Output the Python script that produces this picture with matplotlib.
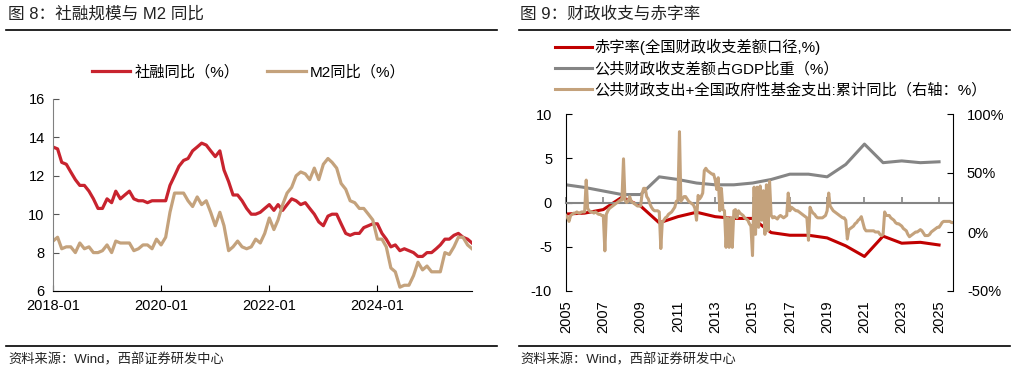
import numpy as np
import pandas as pd
import matplotlib
matplotlib.use("Agg")
import matplotlib.pyplot as plt
import matplotlib.dates as mdates
from matplotlib.lines import Line2D
from matplotlib.ticker import FuncFormatter

plt.rcParams['font.family'] = ['Liberation Sans', 'Noto Sans CJK SC']
plt.rcParams['axes.unicode_minus'] = False

# ---- 图8 data: monthly, 2018-01 .. 2025-10
tsf = [13.5, 13.4, 12.7, 12.6, 12.2, 11.8, 11.5, 11.5, 11.2, 10.8, 10.3, 10.3,
       10.8, 10.6, 11.2, 10.8, 11.0, 11.2, 10.8, 10.7, 10.7, 10.6, 10.7, 10.7,
       10.7, 10.7, 11.5, 12.0, 12.5, 12.8, 12.9, 13.3, 13.5, 13.7, 13.6, 13.3,
       13.0, 13.3, 12.3, 11.7, 11.0, 11.0, 10.7, 10.3, 10.0, 10.0, 10.1, 10.3,
       10.5, 10.2, 10.5, 10.2, 10.5, 10.8, 10.7, 10.5, 10.6, 10.3, 10.0, 9.6,
       9.4, 9.9, 10.0, 10.0, 9.5, 9.0, 8.9, 9.0, 9.0, 9.3, 9.4, 9.5,
       9.5, 9.0, 8.7, 8.3, 8.4, 8.1, 8.2, 8.1, 8.0, 7.8, 7.8, 8.0,
       8.0, 8.2, 8.4, 8.7, 8.7, 8.9, 9.0, 8.8, 8.7, 8.5]
m2 = [8.6, 8.8, 8.2, 8.3, 8.3, 8.0, 8.5, 8.2, 8.3, 8.0, 8.0, 8.1,
      8.4, 8.0, 8.6, 8.5, 8.5, 8.5, 8.1, 8.2, 8.4, 8.4, 8.2, 8.7,
      8.4, 8.8, 10.1, 11.1, 11.1, 11.1, 10.7, 10.4, 10.9, 10.5, 10.7, 10.1,
      9.4, 10.1, 9.4, 8.1, 8.3, 8.6, 8.3, 8.2, 8.3, 8.7, 8.5, 9.0,
      9.8, 9.2, 9.7, 10.5, 11.1, 11.4, 12.0, 12.2, 12.1, 11.8, 12.4, 11.8,
      12.6, 12.9, 12.7, 12.4, 11.6, 11.3, 10.7, 10.6, 10.3, 10.3, 10.0, 9.7,
      8.7, 8.7, 8.3, 7.2, 7.0, 6.2, 6.3, 6.3, 6.8, 7.5, 7.1, 7.3,
      7.0, 7.0, 7.0, 8.0, 7.9, 8.3, 8.8, 8.8, 8.4, 8.2]
left_ticks = ['2018-01', '2020-01', '2022-01', '2024-01']

# ---- 图9 data: annual 2005..2025, monthly spending growth 2005-01 .. 2025-10
years = list(range(2005, 2026))
deficit = [-1.3, -1.2, -0.8, 0.6, -0.4, -2.3, -1.6, -1.1, -1.6, -1.8, -1.8,
           -3.4, -3.7, -3.7, -4.0, -4.9, -6.1, -3.8, -4.6, -4.5, -4.8]
gap_gdp = [2.0, 1.7, 1.3, 0.9, 0.9, 2.9, 2.6, 2.2, 2.0, 2.0, 2.2,
           2.6, 3.2, 3.2, 2.9, 4.3, 6.6, 4.5, 4.7, 4.5, 4.6]
spend = [14, 12, 9, 14, 15, 16, 16, 17, 16, 16, 17, 17,
         17, 44, 20, 18, 17, 17, 16, 17, 16, 15, 15, 14,
         14, -16, 15, 18, 20, 21, 22, 23, 24, 25, 26, 27,
         27, 62, 27, 25, 26, 30, 26, 25, 24, 23, 22, 22,
         22, 33, 37, 37, 30, 28, 24, 21, 19, 18, 18, 18,
         17, -14, 8, 10, 12, 13, 15, 16, 17, 19, 21, 26,
         27, 85, 26, 28, 30, 30, 28, 26, 25, 24, 23, 20,
         10, 31, 28, 30, 33, 52, 54, 52, 51, 50, 49, 49,
         44, 36, 46, 18, 37, 19, 18, -13, 12, -13, 12, -13,
         18, 19, 12, 18, 16, 15, 14, 12, 11, 10, 7, 5,
         -20, 38, -2, 38, 4, 39, 10, 35, -2, 40, 1, 43,
         14, 12, 13, 12, 11, 13, 14, 13, 12, 13, 14, 33,
         18, 21, 20, 19, 18, 18, 17, 16, 15, 14, 13, 12,
         -7, 21, 18, 16, 15, 13, 12, 12, 12, 12, 13, 14,
         18, 33, 22, 20, 18, 17, 16, 15, 14, 13, 12, 12,
         10, -6, 2, 3, 4, 5, 7, 8, 10, 11, 13, 8,
         3, 1, 1, 1, 1, 1, 1, 0, 0, 0, -2, -3,
         -2, 17, 14, 14, 14, 12, 11, 10, 8, 7, 7, 6,
         5, 3, 2, 1, -2, -4, -3, -2, -1, 0, 0, 1,
         2, 1, -1, -3, -3, -3, -2, 0, 1, 2, 3, 4,
         4, 6, 8, 9, 9, 9, 9, 9, 8, 8]
right_tick_years = list(range(2005, 2026, 2))

RED1 = '#C8232E'
TAN = '#C4A27C'
RED2 = '#C00000'
GRAY = '#858585'
FS = 10.5
LFS = 11

fig = plt.figure(figsize=(10.24, 3.75), dpi=100)
W, H = 1024, 375

def fx(px):
    return px / W

def fy(py):
    return 1 - py / H

# titles, rules and sources
fig.text(fx(8), fy(14), '图 8：社融规模与 M2 同比', fontsize=12, va='center', color='#222222')
fig.text(fx(520), fy(14), '图 9：财政收支与赤字率', fontsize=12, va='center', color='#222222')
for x0, x1 in [(6, 497), (519, 1010)]:
    fig.add_artist(Line2D([fx(x0), fx(x1)], [fy(30), fy(30)], color='black', lw=1.2))
    fig.add_artist(Line2D([fx(x0), fx(x1)], [fy(346), fy(346)], color='black', lw=1.2))
fig.text(fx(8), fy(360), '资料来源：Wind，西部证券研发中心', fontsize=9.5, va='center', color='#222222')
fig.text(fx(520), fy(360), '资料来源：Wind，西部证券研发中心', fontsize=9.5, va='center', color='#222222')

# ---- left chart
ax = fig.add_axes([fx(53), fy(291), fx(472 - 53), (291 - 99) / H])
dates = pd.date_range('2018-01-01', periods=len(tsf), freq='MS')
l1, = ax.plot(dates, tsf, color=RED1, lw=2.3, label='社融同比（%）')
l2, = ax.plot(dates, m2, color=TAN, lw=2.3, label='M2同比（%）')
ax.set_xlim(dates[0], dates[-1])
ax.set_ylim(6, 16)
ax.set_yticks([6, 8, 10, 12, 14, 16])
ax.set_xticks(pd.to_datetime(left_ticks))
ax.xaxis.set_major_formatter(mdates.DateFormatter('%Y-%m'))
for s in ['top', 'right']:
    ax.spines[s].set_visible(False)
ax.spines['left'].set_color('#808080')
ax.spines['bottom'].set_color('black')
ax.tick_params(axis='y', direction='in', length=4, pad=6, labelsize=FS, color='#555555')
ax.tick_params(axis='x', direction='in', length=4, pad=6, labelsize=FS)
fig.legend(handles=[l1, l2], loc='center', bbox_to_anchor=(fx(249), fy(72)), ncol=2,
           frameon=False, fontsize=LFS, handlelength=2.5, handletextpad=0.3,
           columnspacing=1.8, borderpad=0, borderaxespad=0)

# ---- right chart
bx = fig.add_axes([fx(566), fy(291), fx(953 - 566), (291 - 114) / H])
ydates = pd.to_datetime([f'{y}-01-01' for y in years])
mdates_ = pd.date_range('2005-01-01', periods=len(spend), freq='MS')
r1, = bx.plot(ydates, deficit, color=RED2, lw=2.2, label='赤字率(全国财政收支差额口径,%)')
r2, = bx.plot(ydates, gap_gdp, color=GRAY, lw=2.2, label='公共财政收支差额占GDP比重（%）')
bx.set_ylim(-10, 10)
bx.set_yticks([-10, -5, 0, 5, 10])
bx.set_xlim(mdates_[0], mdates_[-1])
tick_pos = mdates.date2num(pd.to_datetime([f'{y}-01-01' for y in right_tick_years]))
bx.set_xticks(tick_pos)
bx.spines['bottom'].set_position(('data', 0))
bx.spines['bottom'].set_color(GRAY)
bx.spines['bottom'].set_linewidth(1.5)
bx.spines['top'].set_visible(False)
bx.spines['right'].set_visible(False)
bx.tick_params(axis='x', direction='in', length=4, color=GRAY, width=1.2,
               labelbottom=False)
bx.tick_params(axis='y', direction='in', length=4, pad=10, labelsize=FS)

sec = bx.secondary_xaxis('bottom')
sec.set_xticks(tick_pos)
sec.xaxis.set_major_formatter(mdates.DateFormatter('%Y'))
sec.tick_params(length=0, pad=7, labelsize=FS, labelrotation=90)
sec.spines['bottom'].set_visible(False)

tx = bx.twinx()
r3, = tx.plot(mdates_, spend, color=TAN, lw=2.2, label='公共财政支出+全国政府性基金支出:累计同比（右轴：%）')
tx.set_ylim(-50, 100)
tx.set_yticks([-50, 0, 50, 100])
tx.yaxis.set_major_formatter(FuncFormatter(lambda v, p: f'{v:.0f}%'))
tx.tick_params(axis='y', direction='in', length=4, pad=10, labelsize=FS)
for s in ['top', 'bottom', 'left']:
    tx.spines[s].set_visible(False)
tx.set_xlim(mdates_[0], mdates_[-1])

fig.legend(handles=[r1, r2, r3], loc='center left', bbox_to_anchor=(fx(555), fy(68)),
           frameon=False, fontsize=LFS, handlelength=2.4, handletextpad=0.15,
           labelspacing=0.42, borderpad=0, borderaxespad=0)

fig.savefig('out.png', dpi=100)
